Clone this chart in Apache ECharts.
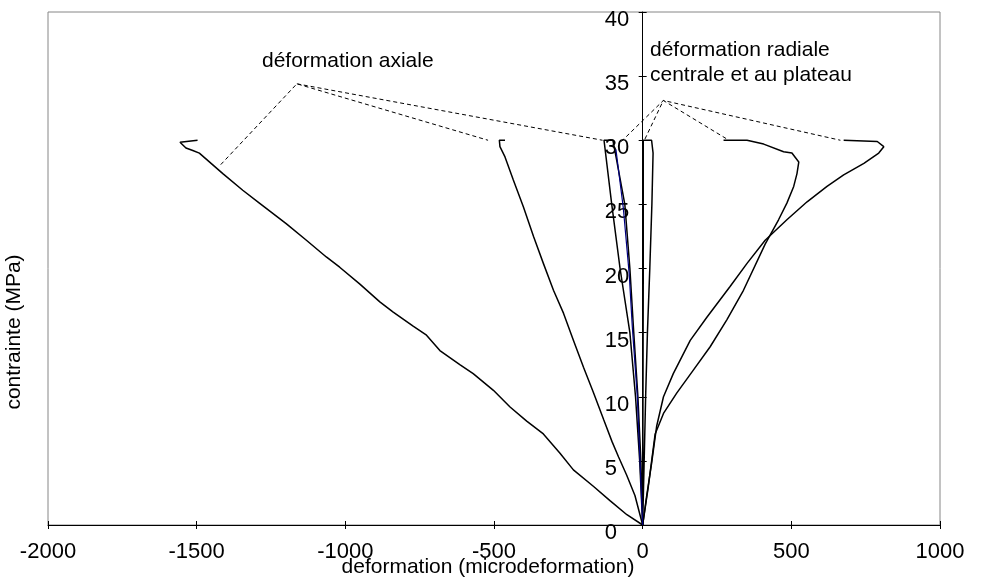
<!DOCTYPE html>
<html>
<head>
<meta charset="utf-8">
<script src="https://cdn.jsdelivr.net/npm/echarts@6/dist/echarts.min.js"></script>
<style>
html,body{margin:0;padding:0;background:#fff;}
#chart{width:982px;height:584px;}
</style>
</head>
<body>
<div id="chart"></div>
<script>
// ---- data (x: microdeformation, y: MPa) ----
var xTicks = [-2000, -1500, -1000, -500, 0, 500, 1000];
var yTicks = [0, 5, 10, 15, 20, 25, 30, 35, 40];

var axialBig = [[0,0],[-53,0.8],[-110,1.9],[-165,3.0],[-233,4.3],[-278,5.6],[-334,7.1],[-390,8.1],[-446,9.2],[-502,10.5],[-570,11.8],[-615,12.5],[-682,13.6],[-727,14.8],[-772,15.5],[-839,16.6],[-884,17.4],[-952,18.8],[-1019,20.1],[-1064,20.9],[-1131,22.2],[-1199,23.5],[-1289,25.1],[-1345,26.1],[-1412,27.4],[-1491,29.0],[-1513,29.2],[-1536,29.4],[-1556,29.85],[-1558,30],[-1497,30]];
var axialMid = [[0,0],[-26,2.3],[-54,3.9],[-81,5.3],[-103,6.5],[-131,8.2],[-165,10.3],[-199,12.3],[-233,14.4],[-266,16.5],[-300,18.3],[-334,20.4],[-367,22.5],[-401,24.8],[-435,26.9],[-463,28.7],[-480,29.5],[-482,30],[-463,30]];
var axialSmall = [[0,0],[-10,5],[-24,10],[-43,15],[-76,20],[-104,25],[-130,30],[-100,30],[-88,28.5],[-60,25],[-43,20],[-30,15],[-16,10],[-6,5],[0,0]];
var axialFit = [[-90,29.3],[-65,24.7],[-45,19.5],[-35,15.5],[-18,10],[-9,5],[0,0]];
var radialSmall = [[0,0],[1,10],[2,20],[2,30],[30,30],[35,29],[31,25],[24,20],[16,15],[10,10],[5,5],[0,0]];
var radialA = [[0,0],[19,3.0],[42,7.1],[70,8.7],[115,10.3],[171,12.1],[227,13.9],[283,16.0],[339,18.3],[412,21.9],[457,23.8],[485,25.1],[508,26.4],[519,27.4],[525,28.3],[502,29.0],[474,29.1],[407,29.7],[351,30],[272,30]];
var radialB = [[0,0],[13,2.2],[30,4.8],[47,7.7],[70,10.0],[103,11.8],[160,14.4],[216,16.2],[294,18.6],[351,20.4],[412,22.2],[485,23.8],[553,25.2],[620,26.4],[676,27.3],[744,28.2],[794,29.0],[811,29.5],[789,29.9],[676,30]];

var leaderAxial1 = [[-1419,28.1],[-1163,34.4],[-520,30.0]];
var leaderAxial2 = [[-1163,34.4],[-135,30.0]];
var leaderRadial1 = [[-72,29.9],[69.5,33.1],[665,30.0]];
var leaderRadial2 = [[7.8,30.1],[69.5,33.1],[283,30.1]];

var labelAxial = 'déformation axiale';
var labelRadial1 = 'déformation radiale';
var labelRadial2 = 'centrale et au plateau';
var xName = 'deformation (microdeformation)';
var yName = 'contrainte (MPa)';

// ---- chart ----
var FONT = "'Liberation Sans', Arial, sans-serif";
var W = 982, H = 584;
var G = {left: 48, right: 42, top: 12, bottom: 59};
var chart = echarts.init(document.getElementById('chart'), null, {renderer: 'canvas', width: W, height: H});

function curve(data, color, width) {
  return {type: 'line', data: data, xAxisIndex: 0, yAxisIndex: 0, showSymbol: false, symbol: 'none',
    lineStyle: {color: color, width: width}, animation: false, silent: true, z: 3};
}
function leader(data) {
  return {type: 'line', data: data, xAxisIndex: 0, yAxisIndex: 0, showSymbol: false, symbol: 'none',
    lineStyle: {color: '#000', width: 1, type: [4, 3]}, animation: false, silent: true, z: 2};
}
function plain(v) { return String(v); }

var xMin = xTicks[0], xMax = xTicks[xTicks.length - 1], xInt = xTicks[1] - xTicks[0];
var yMin = yTicks[0], yMax = yTicks[yTicks.length - 1], yInt = yTicks[1] - yTicks[0];
// the value axis is drawn where x = 0: shift it right from the grid's left edge
var plotW = W - G.left - G.right;
var yAxisShift = -plotW * (0 - xMin) / (xMax - xMin);

chart.setOption({
  animation: false,
  backgroundColor: '#fff',
  grid: {left: G.left, right: G.right, top: G.top, bottom: G.bottom, show: true, borderColor: '#868686', borderWidth: 1,
    containLabel: false, outerBoundsMode: 'none'},
  xAxis: [{
    type: 'value', min: xMin, max: xMax, interval: xInt, position: 'bottom',
    axisLine: {show: true, onZero: false, lineStyle: {color: '#000', width: 1}},
    axisTick: {show: true, inside: false, length: 4, lineStyle: {color: '#000'}},
    axisLabel: {show: true, margin: 16, color: '#000', fontSize: 22, fontFamily: FONT, formatter: plain},
    splitLine: {show: false},
    name: xName, nameLocation: 'middle', nameGap: 32, nameMoveOverlap: false,
    nameTextStyle: {color: '#000', fontSize: 21, fontFamily: FONT, padding: [0, 12, 0, 0]}
  }, {
    type: 'value', min: xMin, max: xMax, interval: xInt, position: 'bottom',
    axisLine: {show: false, onZero: false},
    axisTick: {show: true, inside: true, length: 4, lineStyle: {color: '#000'}},
    axisLabel: {show: false}, splitLine: {show: false}
  }],
  yAxis: [{
    type: 'value', min: yMin, max: yMax, interval: yInt, position: 'left', offset: yAxisShift,
    axisLine: {show: true, onZero: false, lineStyle: {color: '#000', width: 1}},
    axisTick: {show: true, inside: false, length: 4, lineStyle: {color: '#000'}},
    axisLabel: {show: true, margin: 38, align: 'left', color: '#000', fontSize: 22, fontFamily: FONT,
      verticalAlign: 'top', lineHeight: 16, formatter: plain},
    splitLine: {show: false}
  }, {
    type: 'value', min: yMin, max: yMax, interval: yInt, position: 'left', offset: yAxisShift,
    axisLine: {show: false, onZero: false},
    axisTick: {show: true, inside: true, length: 4, lineStyle: {color: '#000'}},
    axisLabel: {show: false}, splitLine: {show: false}
  }],
  graphic: [
    {type: 'text', left: 262, top: 51, silent: true,
     style: {text: labelAxial, fill: '#000', font: '21px ' + FONT}},
    {type: 'text', left: 650, top: 40, silent: true,
     style: {text: labelRadial1, fill: '#000', font: '21px ' + FONT}},
    {type: 'text', left: 650, top: 65, silent: true,
     style: {text: labelRadial2, fill: '#000', font: '21px ' + FONT}},
    {type: 'text', x: 14, y: 332, rotation: Math.PI / 2, silent: true,
     style: {text: yName, fill: '#000', font: '21px ' + FONT, align: 'center', verticalAlign: 'middle'}}
  ],
  series: [
    leader(leaderAxial1), leader(leaderAxial2), leader(leaderRadial1), leader(leaderRadial2),
    curve(axialBig, '#000', 1.5),
    curve(axialMid, '#000', 1.5),
    curve(axialSmall, '#000', 1.5),
    curve(radialSmall, '#000', 1.5),
    curve(radialA, '#000', 1.5),
    curve(radialB, '#000', 1.5),
    curve(axialFit, '#000080', 1.2)
  ]
});
</script>
</body>
</html>
